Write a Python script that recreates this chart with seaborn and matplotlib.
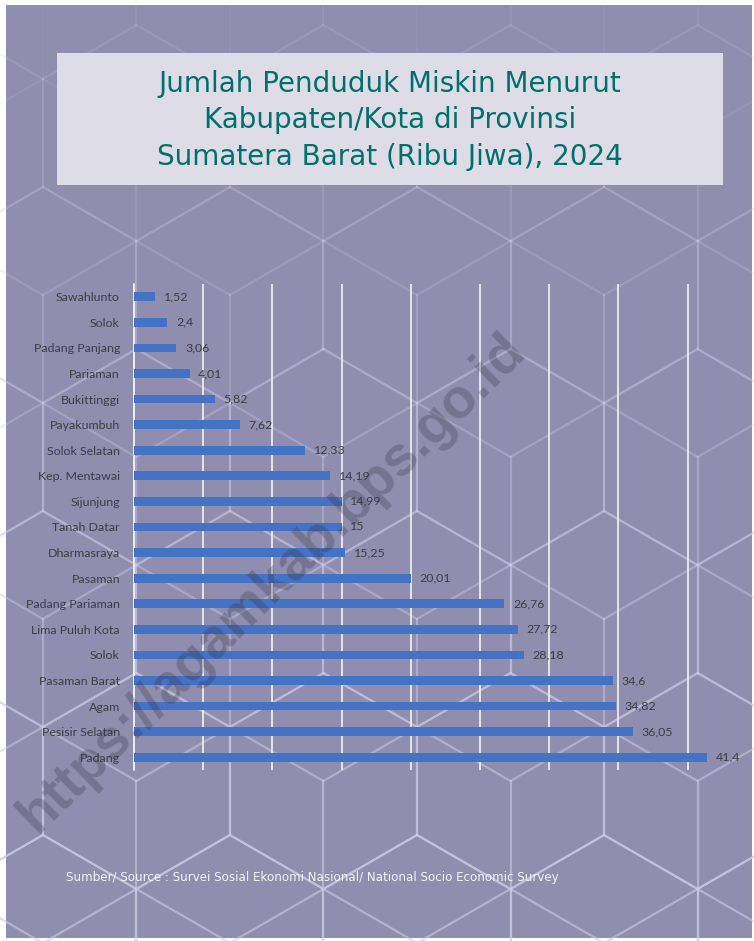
import numpy as np
import pandas as pd
import matplotlib
matplotlib.use("Agg")
import matplotlib.pyplot as plt
from matplotlib.collections import LineCollection
from matplotlib.patches import Rectangle
import seaborn as sns

# --- data -------------------------------------------------------------
regions = ["Sawahlunto", "Solok", "Padang Panjang", "Pariaman", "Bukittinggi",
           "Payakumbuh", "Solok Selatan", "Kep. Mentawai", "Sijunjung",
           "Tanah Datar", "Dharmasraya", "Pasaman", "Padang Pariaman",
           "Lima Puluh Kota", "Solok", "Pasaman Barat", "Agam",
           "Pesisir Selatan", "Padang"]
poor_thousands = [1.52, 2.4, 3.06, 4.01, 5.82, 7.62, 12.33, 14.19, 14.99, 15,
                  15.25, 20.01, 26.76, 27.72, 28.18, 34.6, 34.82, 36.05, 41.4]
grid_ticks = [0, 5, 10, 15, 20, 25, 30, 35, 40]

title_lines = ["Jumlah Penduduk Miskin Menurut",
               "Kabupaten/Kota di Provinsi",
               "Sumatera Barat (Ribu Jiwa), 2024"]
source_text = ("Sumber/ Source : Survei Sosial Ekonomi Nasional/ "
               "National Socio Economic Survey")
watermark = "https://agamkab.bps.go.id"

# --- figure -------------------------------------------------------------
sns.set_theme(style="white")
plt.rcParams["font.family"] = ["Lato", "DejaVu Sans"]

W, H = 754, 941
fig = plt.figure(figsize=(W / 100, H / 100), dpi=100, facecolor="white")

# background canvas in pixel coordinates
bg = fig.add_axes([0, 0, 1, 1], zorder=0)
bg.set_xlim(0, W)
bg.set_ylim(H, 0)
bg.axis("off")

panel = Rectangle((6, 5), 746, 933, facecolor="#8f8eae", edgecolor="none")
bg.add_patch(panel)

# tumbling-block hexagon pattern, fading towards the top
s = 108.0
d = s * np.cos(np.pi / 6)
segs, alphas = [], []
for j in range(-5, 4):
    for i in range(-4, 5):
        cx = 417 + d * (2 * i + (j % 2))
        cy = 619 + 162 * j
        v = [(cx, cy - s), (cx + d, cy - s / 2), (cx + d, cy + s / 2),
             (cx, cy + s), (cx - d, cy + s / 2), (cx - d, cy - s / 2)]
        for k in range(6):
            segs.append([v[k], v[(k + 1) % 6]])
        for k in (3, 1, 5):
            segs.append([(cx, cy), v[k]])
for sg in segs:
    ym = (sg[0][1] + sg[1][1]) / 2
    alphas.append(float(np.clip(0.06 + 0.5 * ym / 800, 0.06, 0.6)))
cols = [(0.80, 0.80, 0.90, a) for a in alphas]
lc = LineCollection(segs, colors=cols, linewidths=1.6, capstyle="round")
lc.set_clip_path(panel)
bg.add_collection(lc)

# title box
bg.add_patch(Rectangle((57, 53), 666, 132, facecolor="#e0dfea",
                       edgecolor="none", alpha=0.97, zorder=3))
for t, y in zip(title_lines, [84, 120, 157]):
    bg.text(390, y, t, ha="center", va="center", fontsize=20,
            color="#00706c", family=["DejaVu Sans"], zorder=4)

bg.text(66, 878, source_text, ha="left", va="center", fontsize=8.6,
        color="#f4f4f8", family=["DejaVu Sans"], zorder=4)

# --- bar chart ---------------------------------------------------------
x0_px, x1_px = 133, 743
y_top, y_bot = 284, 770
ax = fig.add_axes([x0_px / W, 1 - y_bot / H, (x1_px - x0_px) / W,
                   (y_bot - y_top) / H], zorder=2)
ax.patch.set_alpha(0)

df = pd.DataFrame({"pos": np.arange(len(regions)), "value": poor_thousands})
sns.barplot(data=df, x="value", y="pos", orient="h", color="#4472c4",
            saturation=1, width=0.34, linewidth=0, edgecolor="none", ax=ax,
            zorder=3)

ax.set_xlim(-0.08, 44)
ax.set_ylim(len(regions) - 0.5, -0.5)
ax.set_xticks(grid_ticks)
ax.set_xticklabels([])
ax.set_yticks(np.arange(len(regions)))
ax.set_yticklabels(regions, fontsize=8.9, color="#3d3d45")
ax.tick_params(axis="both", length=0)
ax.tick_params(axis="y", pad=9.4)
ax.set_xlabel("")
ax.set_ylabel("")
ax.xaxis.grid(True, color="#ececf3", linewidth=1.3)
ax.yaxis.grid(False)
ax.set_axisbelow(True)
ax.axvline(0, color="#ececf3", linewidth=1.4, zorder=1, clip_on=False)
for sp in ax.spines.values():
    sp.set_visible(False)

labels = [f"{v:g}".replace(".", ",") for v in poor_thousands]
ax.bar_label(ax.containers[0], labels=labels, padding=6.3, fontsize=8.9,
             color="#3d3d45")

# watermark over everything
over = fig.add_axes([0, 0, 1, 1], zorder=5)
over.set_xlim(0, W)
over.set_ylim(H, 0)
over.axis("off")
over.patch.set_alpha(0)
over.text(272, 584, watermark, ha="center", va="center", rotation=44.5,
          rotation_mode="anchor", fontsize=40, fontweight="bold",
          family=["Liberation Sans"], color="#2a2a3c", alpha=0.26)

fig.savefig("out.png", dpi=100, facecolor="white")
